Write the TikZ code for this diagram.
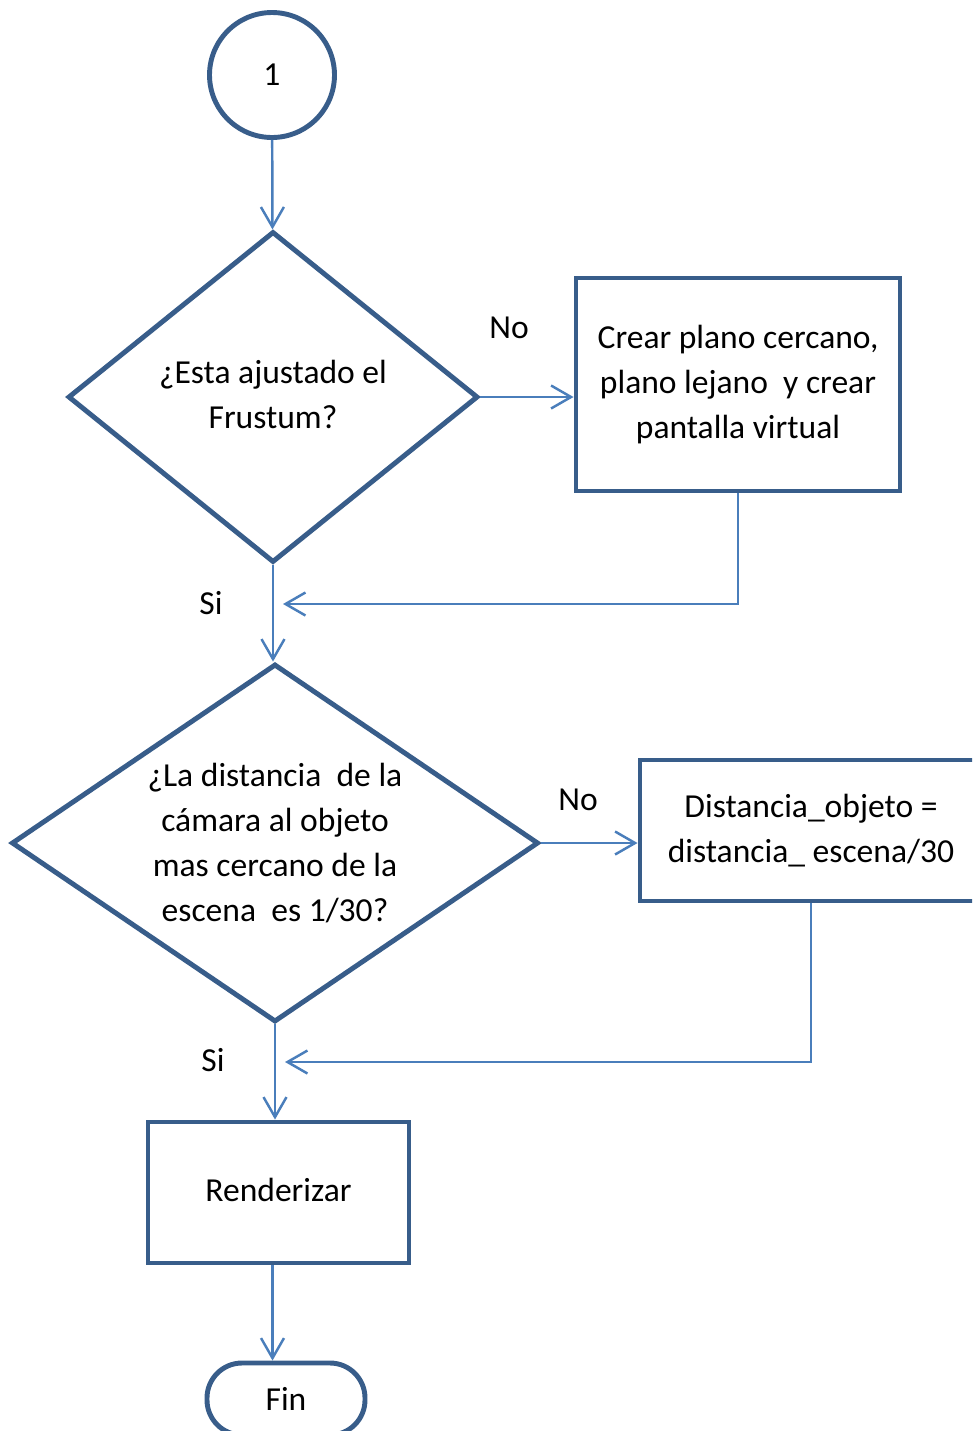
\documentclass[tikz,border=0pt]{standalone}
\usepackage{fontspec}
\setmainfont{Carlito}
\usetikzlibrary{shapes.geometric,arrows.meta,positioning}

\definecolor{frame}{HTML}{385D8A}
\definecolor{link}{HTML}{4A7EBB}

\begin{document}
\begin{tikzpicture}[
  font=\fontsize{9.55}{12.8}\selectfont,
  conn/.style={draw=frame, line width=1.4pt, fill=white, circle, minimum size=1.25cm},
  dec/.style={draw=frame, line width=1.4pt, fill=white, diamond, align=center, inner sep=0pt},
  proc/.style={draw=frame, line width=1.4pt, fill=white, align=center, inner sep=0pt},
  term/.style={draw=frame, line width=1.4pt, fill=white, rounded corners=3.5mm, minimum width=1.58cm, minimum height=0.72cm},
  flow/.style={draw=link, line width=0.7pt, -{Straight Barb[length=2mm,width=2.3mm]}},
  lbl/.style={inner sep=0pt}
]
\clip (0,0) rectangle (9.72,-14.31);

%--- Nodes ---
\node[conn] (uno) at (2.72,-0.75) {1};
\node[dec, minimum width=4.1cm, minimum height=3.31cm] (frustum) at (2.73,-3.97) {\raisebox{1mm}{\begin{tabular}{@{}c@{}}¿Esta ajustado el\\Frustum?\end{tabular}}};
\node[proc, minimum width=3.24cm, minimum height=2.13cm] (planos) at (7.38,-3.845) {Crear plano cercano,\\plano lejano~ y crear\\pantalla virtual};
\node[dec, aspect=1.47, minimum width=5.27cm, minimum height=3.58cm] (dist) at (2.75,-8.43) {¿La distancia~ de la\\cámara al objeto\\mas cercano de la\\escena~ es 1/30?};
\node[proc, minimum width=3.42cm, minimum height=1.41cm] (ajuste) at (8.11,-8.305) {Distancia\_objeto =\\distancia\_ escena/30};
\node[proc, minimum width=2.61cm, minimum height=1.41cm] (render) at (2.785,-11.925) {\raisebox{0.6mm}{Renderizar}};
\node[term] (fin) at (2.86,-13.99) {Fin};

%--- Junctions on the main line ---
\coordinate (j1) at (2.73,-6.04);
\coordinate (j2) at (2.75,-10.62);

%--- Labels ---
\node[lbl] (no1) at (5.09,-3.28) {No};
\node[lbl] (si1) at (2.11,-6.03) {Si};
\node[lbl] (no2) at (5.78,-8.00) {No};
\node[lbl] (si2) at (2.13,-10.60) {Si};

%--- Connectors ---
\draw[flow] (uno) -- (frustum);
\draw[flow] (frustum.east) -- (frustum.east -| planos.west);
\draw[flow, shorten >=1mm] (planos.south) |- (j1);
\draw[flow] (frustum.south) -- (frustum.south |- dist.north);
\draw[flow] (dist.east) -- (dist.east -| ajuste.west);
\draw[flow, shorten >=1mm] (ajuste.south) |- (j2);
\draw[flow] (dist.south) -- (dist.south |- render.north);
\draw[flow] ([xshift=-0.6mm]render.south) -- ([xshift=-0.6mm]render.south |- fin.north);
\end{tikzpicture}
\end{document}
